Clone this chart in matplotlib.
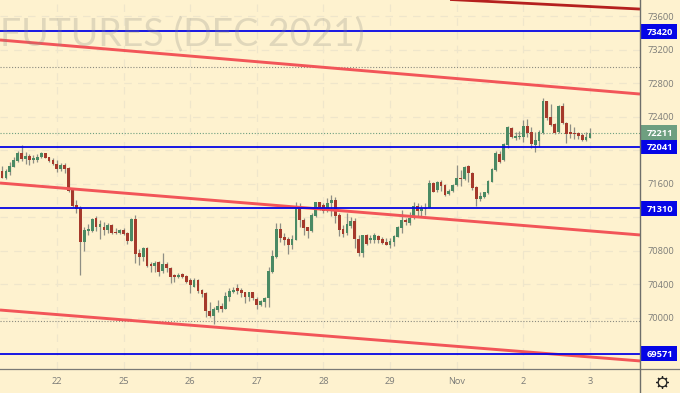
import matplotlib
matplotlib.use("Agg")
import matplotlib.pyplot as plt
from matplotlib.patches import Rectangle
from matplotlib.lines import Line2D
import numpy as np

opens = [71756,71665,71740,71804,71872,71967,71895,71935,71887,71887,71915,71967,71915,71883,71836,
71780,71824,71792,71526,71343,71307,70910,71037,71037,71188,71085,71085,71053,71109,71025,
71013,71049,71013,70922,71184,70771,70731,70835,70640,70620,70664,70564,70644,70596,70509,
70489,70521,70501,70449,70374,70457,70330,70294,70080,70028,70096,70143,70111,70246,70314,
70354,70334,70306,70254,70306,70222,70159,70191,70234,70548,70727,71057,70969,70946,70870,
70934,71339,71168,71081,71041,71216,71379,71343,71279,71367,71406,71228,71061,71009,71100,
71156,70942,70771,70985,70930,70926,70981,70946,70902,70870,70910,70969,71069,71168,71128,
71188,71335,71279,71315,71311,71613,71526,71621,71582,71478,71514,71582,71673,71653,71812,
71733,71558,71415,71442,71486,71625,71764,71959,71880,72062,72269,72146,72154,72162,72289,
72217,72062,72114,72201,72583,72392,72313,72213,72527,72328,72221,72209,72209,72178,72118,72150]
highs = [71812,71772,71860,71923,71995,72062,71983,71955,71943,71955,71979,71971,71923,71903,71883,
71844,71852,71804,71546,71407,71335,71081,71117,71196,71216,71168,71148,71129,71117,71069,
71065,71069,71029,71196,71224,70819,70843,70843,70672,70684,70684,70771,70672,70612,70525,
70533,70533,70513,70473,70473,70465,70342,70306,70195,70135,70215,70175,70314,70354,70373,
70405,70354,70314,70314,70314,70246,70215,70254,70612,70811,71136,71136,71009,70969,70989,
71379,71367,71188,71089,71247,71387,71387,71367,71426,71466,71446,71247,71108,71247,71208,
71188,70989,70989,71001,70989,71009,70989,70969,70950,70950,70989,71097,71287,71188,71267,
71387,71367,71347,71367,71645,71625,71633,71645,71597,71534,71597,71824,71764,71816,71824,
71744,71574,71506,71506,71645,71788,71991,71995,72082,72285,72281,72221,72233,72360,72372,
72273,72221,72241,72618,72591,72551,72328,72539,72559,72340,72309,72273,72221,72201,72221,72269]
lows = [71665,71653,71705,71796,71864,71875,71836,71820,71844,71864,71907,71903,71864,71828,71744,
71748,71732,71498,71319,71248,70509,70803,70989,71021,71037,70942,70989,71009,71001,71001,
71001,70989,70878,70914,70652,70632,70684,70604,70552,70544,70501,70541,70552,70421,70433,
70477,70481,70413,70302,70366,70294,70246,70016,70016,69925,70076,70075,70103,70203,70294,
70286,70246,70183,70203,70215,70111,70147,70135,70135,70532,70719,70910,70870,70763,70818,
70926,71089,70989,70957,71029,71208,71287,71247,71267,71216,71128,70981,70961,70989,71069,
70830,70739,70731,70874,70890,70890,70898,70882,70866,70830,70858,70961,71009,71108,71108,
71176,71216,71216,71228,71307,71498,71506,71518,71458,71466,71506,71574,71574,71645,71625,
71526,71339,71399,71434,71474,71617,71756,71844,71872,72030,72150,72122,72130,72102,72162,
72022,71979,72042,72193,72360,72289,72193,72201,72313,72082,72142,72130,72130,72114,72110,72142]
closes = [71673,71756,71816,71883,71967,71895,71935,71883,71907,71923,71967,71907,71872,71836,71780,
71824,71780,71514,71335,71299,70902,71045,71057,71176,71085,71125,71049,71109,71013,71013,
71045,71001,70922,71184,70763,70731,70835,70620,70620,70660,70552,70644,70600,70493,70489,
70509,70489,70429,70398,70457,70326,70282,70080,70028,70107,70143,70111,70262,70322,70334,
70326,70302,70254,70306,70234,70159,70203,70242,70556,70739,71057,70950,70930,70870,70946,
71339,71168,71077,71041,71224,71379,71327,71279,71375,71406,71216,71049,71001,71116,71156,
70942,70771,70985,70882,70950,70985,70934,70890,70874,70922,70981,71089,71168,71148,71196,
71335,71279,71307,71303,71613,71506,71621,71574,71470,71518,71590,71669,71657,71804,71729,
71546,71419,71450,71498,71633,71776,71967,71860,72070,72277,72158,72170,72166,72293,72209,
72070,72118,72221,72583,72388,72301,72209,72527,72321,72193,72189,72189,72174,72122,72154,72209]

day_labels = ["22","25","26","27","28","29","Nov","2","3"]
day_candle = [14,31,48,65,82,99,116,133,150]
price_ticks = [73600,73200,72800,72400,71600,70800,70400,70000]
grid_levels = [73600,73200,72800,72400,72000,71600,71200,70800,70400,70000]
support_levels = [73420,72041,71310,69571]
dotted_levels = [72992,69960]
last_price = 72211
channel_left = [73314,71609,70095]
channel_right = [72670,70990,69488]
upper_left, upper_right = 73797,73683
upper_start = 114.3

BG = "#FEF2CF"
UP = "#4A8A64"
DOWN = "#A5392B"
WICK = "#8E8E84"
TXT = "#7C7C78"
BLUE = "#0505E6"
RED = "#F25558"
DARKRED = "#B5201E"

W, H = 680, 393
XL = (-0.51, 162.76)
YL = (69392, 73791)
fig = plt.figure(figsize=(W/100, H/100), dpi=100, facecolor=BG)
ax = fig.add_axes([0, 24/H, 640/W, 369/H], facecolor=BG)
ax.set_xlim(*XL)
ax.set_ylim(*YL)

for g in grid_levels:
    ax.axhline(g, color="#EFE6CB", lw=0.9, ls=(0, (6, 5)), zorder=1)
for d in day_candle:
    ax.axvline(d, color="#EFE6CB", lw=0.9, ls=(0, (6, 5)), zorder=1)

fig.text(365/W, 1-45/H, "FUTURES (DEC 2021)", family="Lato", fontsize=27.0,
         color="#8A8A80", alpha=0.25, ha="right", va="baseline", zorder=1.5)

for lv in dotted_levels:
    ax.axhline(lv, color="#8A8A80", lw=0.8, ls=(0, (1, 1.6)), zorder=2)
ax.axhline(last_price, color="#6E9F80", lw=0.8, ls=(0, (1, 1.6)), zorder=2)

idx = np.arange(len(opens))
o, h, l, c = map(np.array, (opens, highs, lows, closes))
ax.vlines(idx, l, h, color=WICK, lw=0.9, zorder=3)
colors = [UP if ci >= oi else DOWN for oi, ci in zip(o, c)]
ax.bar(idx, np.maximum(np.abs(c-o), 12), bottom=np.minimum(o, c), width=0.72,
       color=colors, edgecolor="none", zorder=4)

for a, b in zip(channel_left, channel_right):
    ax.plot(XL, [a, b], color=RED, lw=2.1, solid_capstyle="butt", zorder=5)
ax.plot([upper_start, XL[1]], [upper_left, upper_right], color=DARKRED, lw=2.0,
        solid_capstyle="butt", zorder=5)
for lv in support_levels:
    ax.axhline(lv, color=BLUE, lw=1.3, zorder=6)

ax.set_xticks([]); ax.set_yticks([])
for s in ax.spines.values():
    s.set_visible(False)

def yf(v): return (24 + (v-YL[0])/(YL[1]-YL[0])*369)/H

for p in price_ticks:
    fig.text(660.5/W, yf(p), str(p), family="Open Sans", fontsize=6.7, color=TXT,
             ha="center", va="center_baseline")

def box(v, col):
    hh = 7.5/H
    fig.add_artist(Rectangle((640/W, yf(v)-hh), 37/W, 2*hh, transform=fig.transFigure,
                             facecolor=col, edgecolor="none"))
    fig.text(660/W, yf(v), str(v), family="Open Sans", fontsize=6.7, color="white",
             fontweight="bold", ha="center", va="center_baseline")
for lv in support_levels:
    box(lv, BLUE)
box(last_price, "#6E9F80")

for d, t in zip(day_candle, day_labels):
    px = (d-XL[0])/(XL[1]-XL[0])*640
    fig.text(px/W, 1-380.5/H, t, family="Open Sans", fontsize=6.7, color=TXT,
             ha="center", va="center_baseline")

fig.add_artist(Line2D([0, 680/W], [24/H, 24/H], color="#7A7A76", lw=0.9, transform=fig.transFigure))
fig.add_artist(Line2D([640/W, 640/W], [0, 1], color="#6E6E6A", lw=1.0, transform=fig.transFigure))

gx, gy = 661.5/W, 11.5/H
fig.add_artist(Line2D([gx], [gy], marker=(8, 2, 0), ms=9, mec="#222222", mew=0.9, transform=fig.transFigure, zorder=1))
fig.add_artist(Line2D([gx], [gy], marker="o", ms=6.2, mfc=BG, mec="#222222", mew=0.9, transform=fig.transFigure, zorder=2))

fig.savefig("out.png", dpi=100, facecolor=BG)
